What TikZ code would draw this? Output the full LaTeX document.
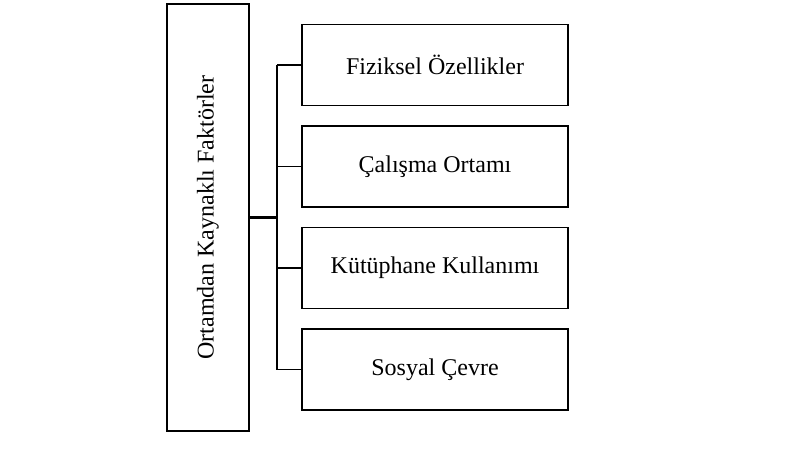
\documentclass[tikz,border=0pt]{standalone}
\usepackage{fontspec}
\setmainfont{Liberation Serif}
\usetikzlibrary{positioning}

\begin{document}
\begin{tikzpicture}[x=0.5pt,y=-0.5pt,node distance=50.75pt,on grid,
        factor/.style={draw,line width=0.8pt,minimum width=133pt,minimum height=40.5pt,inner sep=0pt,font=\fontsize{12}{14}\selectfont},
        main/.style={draw,line width=0.8pt,rotate=90,minimum width=213.5pt,minimum height=41pt,inner sep=0pt,font=\fontsize{12}{14}\selectfont}]
            \useasboundingbox (0,0) rectangle (787,451);
            \node[main] (ortam) at (208,217.5) {Ortamdan Kaynaklı Faktörler};
            \node[factor] (fiz) at (435,65) {Fiziksel Özellikler};
            \node[factor] (calisma) [below=of fiz] {Çalışma Ortamı};
            \node[factor] (kutup) [below=of calisma] {Kütüphane Kullanımı};
            \node[factor] (sosyal) [below=of kutup] {Sosyal Çevre};

            \draw[line width=1.4pt] (ortam.south) -- ++(27,0) coordinate (hub);
            \draw[line width=0.8pt] (hub |- fiz.west) -- (hub |- sosyal.west);
            \draw[line width=0.8pt]
                (hub |- fiz.west) -- (fiz.west)
                (hub |- calisma.west) -- (calisma.west)
                (hub |- kutup.west) -- (kutup.west)
                (hub |- sosyal.west) -- (sosyal.west);
\end{tikzpicture}
\end{document}
